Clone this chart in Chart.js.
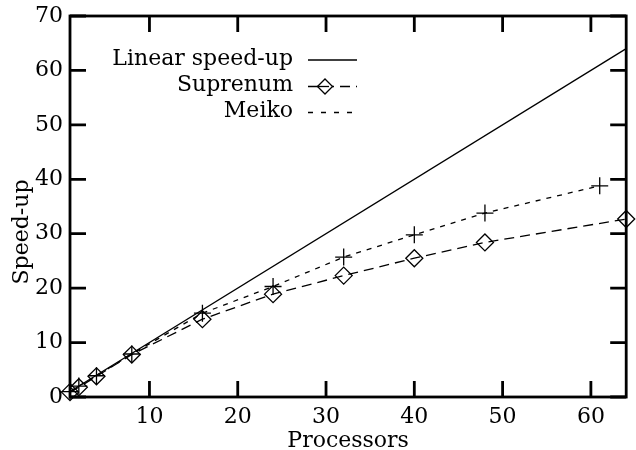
<!DOCTYPE html>
<html><head><meta charset="utf-8">
<script src="https://cdn.jsdelivr.net/npm/chart.js@4"></script>
<style>html,body{margin:0;padding:0;background:#fff}#wrap{width:636px;height:450px}</style>
</head><body><div id="wrap"><canvas id="c" width="636" height="450"></canvas></div>
<script>
const seriesNames = ['Linear speed-up', 'Suprenum', 'Meiko'];
const linearX = [1, 64];
const linearY = [1, 64];
const suprenumX = [1, 2, 4, 8, 16, 24, 32, 40, 48, 64];
const suprenumY = [0.9, 1.8, 3.8, 7.8, 14.3, 18.9, 22.3, 25.5, 28.4, 32.7];
const meikoX = [1, 2, 4, 8, 16, 24, 32, 40, 48, 61];
const meikoY = [1, 2, 3.9, 7.9, 15.4, 20.3, 25.7, 29.8, 33.8, 38.8];
const xTicks = [10, 20, 30, 40, 50, 60];
const yTicks = [0, 10, 20, 30, 40, 50, 60, 70];
const xTitle = 'Processors';
const yTitle = 'Speed-up';

const FONT = 'DejaVu Serif';
const FS = 22;
const pts = (xs, ys) => xs.map((x, i) => ({x: x, y: ys[i]}));

const framePlugin = {
  id: 'frame',
  afterDraw(chart) {
    const ctx = chart.ctx, a = chart.chartArea;
    const xs = chart.scales.x, ys = chart.scales.y;
    ctx.save();
    ctx.strokeStyle = '#000';
    ctx.lineWidth = 2.8;
    ctx.setLineDash([]);
    ctx.strokeRect(a.left, a.top, a.right - a.left, a.bottom - a.top);
    const TL = 16;
    ctx.beginPath();
    xTicks.forEach(v => {
      const p = xs.getPixelForValue(v);
      ctx.moveTo(p, a.bottom); ctx.lineTo(p, a.bottom - TL);
      ctx.moveTo(p, a.top); ctx.lineTo(p, a.top + TL);
    });
    yTicks.forEach(v => {
      const p = ys.getPixelForValue(v);
      ctx.moveTo(a.left, p); ctx.lineTo(a.left + TL, p);
      ctx.moveTo(a.right, p); ctx.lineTo(a.right - TL, p);
    });
    ctx.stroke();

    // y title
    ctx.fillStyle = '#000';
    ctx.font = FS + 'px "' + FONT + '"';
    ctx.save();
    ctx.translate(22, 232);
    ctx.rotate(-Math.PI / 2);
    ctx.textAlign = 'center';
    ctx.textBaseline = 'middle';
    ctx.fillText(yTitle, 0, 0);
    ctx.restore();

    // legend
    const rows = [60, 86.5, 112.5];
    const tx = 293, l0 = 308, l1 = 357;
    ctx.textAlign = 'right';
    ctx.textBaseline = 'middle';
    seriesNames.forEach((n, i) => ctx.fillText(n, tx, rows[i] - 1));
    ctx.lineWidth = 1.3;
    // linear
    ctx.beginPath(); ctx.moveTo(l0, rows[0]); ctx.lineTo(l1, rows[0]); ctx.stroke();
    // suprenum
    ctx.setLineDash([10, 6]);
    ctx.beginPath(); ctx.moveTo(l0, rows[1]); ctx.lineTo(l1, rows[1]); ctx.stroke();
    ctx.setLineDash([]);
    const cx = 325, cy = rows[1], r = 7.5;
    ctx.beginPath();
    ctx.moveTo(cx - r, cy); ctx.lineTo(cx, cy - r); ctx.lineTo(cx + r, cy); ctx.lineTo(cx, cy + r);
    ctx.closePath();
    ctx.fillStyle = '#fff'; ctx.fill(); ctx.stroke();
    ctx.beginPath(); ctx.moveTo(cx - r, cy); ctx.lineTo(cx + 4, cy); ctx.stroke();
    // meiko
    ctx.setLineDash([5, 8]);
    ctx.beginPath(); ctx.moveTo(l0, rows[2]); ctx.lineTo(l1, rows[2]); ctx.stroke();
    ctx.restore();
  }
};

new Chart(document.getElementById('c'), {
  type: 'line',
  data: {
    datasets: [
      {label: seriesNames[0], data: pts(linearX, linearY), borderColor: '#000', borderWidth: 1.3,
       pointRadius: 0, fill: false, tension: 0, clip: false},
      {label: seriesNames[1], data: pts(suprenumX, suprenumY), borderColor: '#000', borderWidth: 1.3,
       borderDash: [10, 6], pointStyle: 'rectRot', pointRadius: 8.5, pointBorderWidth: 1.3,
       pointBorderColor: '#000', pointBackgroundColor: 'rgba(0,0,0,0)', fill: false, tension: 0, clip: false},
      {label: seriesNames[2], data: pts(meikoX, meikoY), borderColor: '#000', borderWidth: 1.3,
       borderDash: [5, 6], pointStyle: 'cross', pointRadius: 8.5, pointBorderWidth: 1.3,
       pointBorderColor: '#000', pointBackgroundColor: 'rgba(0,0,0,0)', fill: false, tension: 0, clip: false}
    ]
  },
  options: {
    responsive: false,
    animation: false,
    devicePixelRatio: 1,
    layout: {padding: {top: 16, right: 6, left: 0, bottom: 0}},
    plugins: {legend: {display: false}, tooltip: {enabled: false}},
    scales: {
      x: {
        type: 'linear', min: 1, max: 64,
        grid: {display: false, drawTicks: false},
        border: {display: false},
        ticks: {color: '#000', font: {family: FONT, size: FS}, padding: 7, maxRotation: 0},
        title: {display: true, text: xTitle, color: '#000', font: {family: FONT, size: FS}, padding: {top: 0, bottom: -4}},
        afterBuildTicks(s) { s.ticks = xTicks.map(v => ({value: v})); },
        afterFit(s) { s.height = 53; s.paddingLeft = 0; s.paddingRight = 0; }
      },
      y: {
        type: 'linear', min: 0, max: 70,
        grid: {display: false, drawTicks: false},
        border: {display: false},
        ticks: {color: '#000', font: {family: FONT, size: FS}, padding: 7},
        afterBuildTicks(s) { s.ticks = yTicks.map(v => ({value: v})); },
        afterFit(s) { s.width = 70; s.paddingTop = 0; s.paddingBottom = 0; }
      }
    }
  },
  plugins: [framePlugin]
});
</script>
</body></html>
